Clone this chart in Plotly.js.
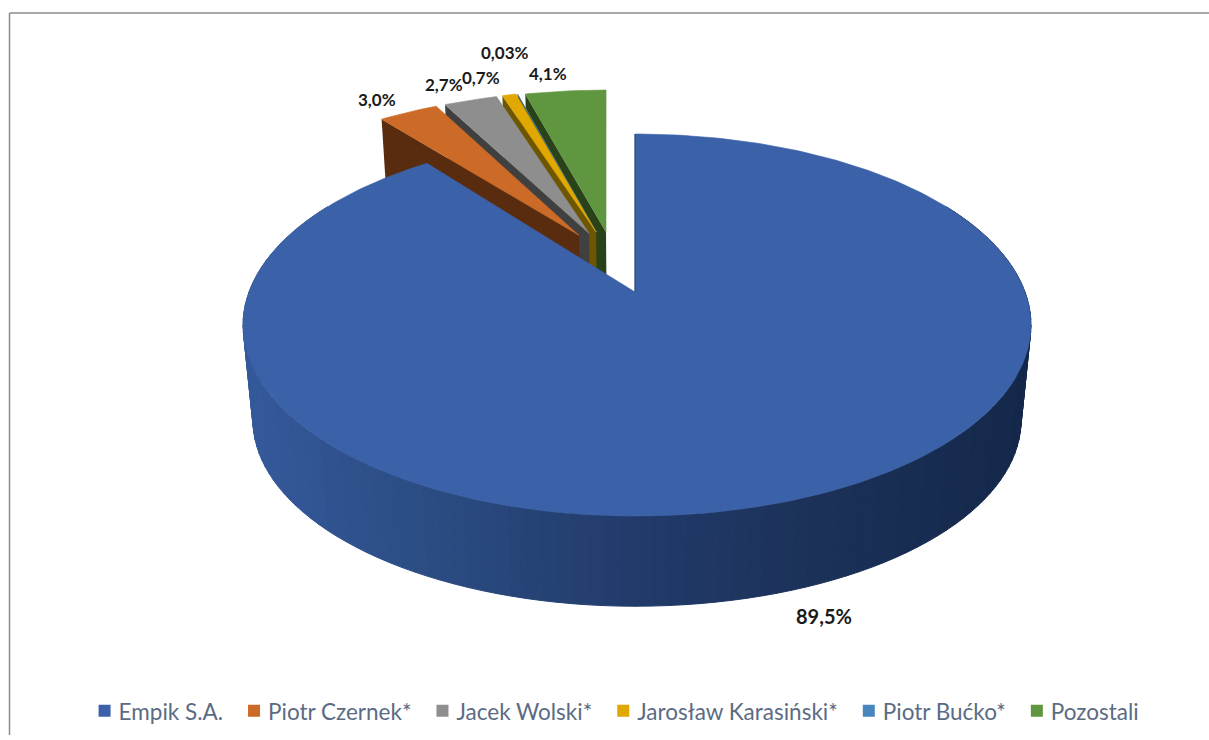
<!DOCTYPE html>
<html><head><meta charset="utf-8">
<script src="https://cdn.plot.ly/plotly-3.0.1.min.js"></script>
<style>html,body{margin:0;padding:0;background:#fff}#c{width:1209px;height:740px}</style>
</head><body><div id="c"></div>
<script>
// data
const categories = ["Empik S.A.","Piotr Czernek*","Jacek Wolski*","Jarosław Karasiński*","Piotr Bućko*","Pozostali"];
const values = [89.5,3.0,2.7,0.7,0.03,4.1];
const valueLabels = ["89,5%","3,0%","2,7%","0,7%","0,03%","4,1%"];
// styling
const topColors = ["#3B62A8","#CC6A27","#8E8E8E","#E0A800","#4A86BE","#5F963F"];
const wallColors = ["#1F3864","#592C0F","#404040","#6E5500","#2A4219","#2A4219"];
const explodeU = [0,-0.1705,-0.144,-0.126,-0.121,-0.0983];
const explodeTipU = [0,-0.158,-0.1307,-0.1116,-0.1116,-0.0846];
const explodeV = [0,0.323,0.335,0.343,0.343,0.343];
const labelX = [824,377,444,481,505,548];
const labelY = [616,99,84,77,52,73];
const labelSize = [20,17,17,17,17,17];
// projection of the pie disc
const CX=637, CY=325, K=388, A=191, B=33, C=0.1728, DEPTH=95, SHRINK=0.975;
function proj(u,v,low,main){
  const w=1+C*v; let x=K*u/w, y=(-A*v-B)/w;
  if(low){x*=SHRINK;y=y*SHRINK+DEPTH;}
  if(main){const m=1-Math.min(1,Math.abs(u));x-=2*m*m;}
  return [CX+x,CY+y];
}
function rim(deg,i,low){
  const t=deg*Math.PI/180;
  return proj(Math.sin(t)+explodeU[i],Math.cos(t)+explodeV[i],low,i===0);
}
function hex(c){return [1,3,5].map(k=>parseInt(c.substr(k,2),16));}
const wallStops=[[250,"#34599A"],[450,"#2A4A80"],[640,"#213A69"],[820,"#1B3158"],[1030,"#14284A"]];
function wallColor(x){
  for(let i=0;i<wallStops.length-1;i++){
    const a=wallStops[i],b=wallStops[i+1];
    if(x<=b[0]||i===wallStops.length-2){
      const f=Math.max(0,Math.min(1,(x-a[0])/(b[0]-a[0])));
      const p=hex(a[1]),q=hex(b[1]);
      return "rgb("+p.map((v,k)=>Math.round(v+(q[k]-v)*f)).join(",")+")";
    }
  }
}
const total=values.reduce((a,b)=>a+b,0);
const starts=[];let acc=0;
values.forEach(v=>{starts.push(acc/total*360);acc+=v;});
const ends=values.map((v,i)=>starts[i]+v/total*360);

function poly(pts,fill,line){
  return {type:"scatter",mode:"lines",x:pts.map(p=>p[0]),y:pts.map(p=>p[1]),fill:"toself",fillcolor:fill,
    line:{color:line||fill,width:line?0.6:0},hoverinfo:"skip",showlegend:false};
}
const traces=[];
// exploded slices, painted from back right to front left
for(let i=values.length-1;i>=1;i--){
  const a=starts[i],b=ends[i];
  const tipTop=proj(explodeTipU[i],explodeV[i],false), tipLow=proj(explodeTipU[i],explodeV[i],true);
  traces.push(poly([tipTop,rim(a,i,false),rim(a,i,true),tipLow,tipTop],wallColors[i]));
  const pts=[tipTop];
  const n=Math.max(2,Math.ceil(b-a));
  for(let k=0;k<=n;k++)pts.push(rim(a+(b-a)*k/n,i,false));
  pts.push(tipTop);
  traces.push(poly(pts,topColors[i],topColors[i]));
}
// main slice wall
for(let d=60;d<300;d+=2){
  const p1=rim(d,0,false),p2=rim(d+2,0,false),p3=rim(d+2,0,true),p4=rim(d,0,true);
  const col=wallColor((p1[0]+p2[0])/2);
  const tr=poly([p1,p2,p3,p4,p1],col);
  tr.line={color:col,width:1};
  traces.push(tr);
}
// main slice top
{
  const a=starts[0],b=ends[0],apex=proj(0,0,false,true),pts=[apex];
  const n=Math.ceil(b-a);
  for(let k=0;k<=n;k++)pts.push(rim(a+(b-a)*k/n,0,false));
  pts.push(apex);
  traces.push(poly(pts,topColors[0],topColors[0]));
  const edge=[apex,rim(0,0,false)];
  traces.push({type:"scatter",mode:"lines",x:edge.map(p=>p[0]),y:edge.map(p=>p[1]),
    line:{color:"#2A4370",width:1},hoverinfo:"skip",showlegend:false});
}
// legend entries
categories.forEach((c,i)=>traces.push({type:"scatter",mode:"markers",x:[null],y:[null],name:c,legendgroup:c,
  marker:{symbol:"square",size:12,color:topColors[i]},hoverinfo:"skip",showlegend:true}));

const layout={
  width:1209,height:740,margin:{l:0,r:0,t:0,b:0},paper_bgcolor:"#fff",plot_bgcolor:"#fff",
  xaxis:{range:[0,1209],visible:false,fixedrange:true},
  yaxis:{range:[740,0],visible:false,fixedrange:true},
  showlegend:true,
  legend:{orientation:"h",x:0.065,y:0.039,xanchor:"left",yanchor:"middle",traceorder:"grouped",tracegroupgap:15,
    font:{family:"Lato, Carlito, sans-serif",size:22.5,color:"#5B6B84"},bgcolor:"rgba(0,0,0,0)"},
  annotations:valueLabels.map((t,i)=>({x:labelX[i],y:labelY[i],xref:"x",yref:"y",text:"<b>"+t+"</b>",showarrow:false,
    xanchor:"center",yanchor:"middle",font:{family:"Lato, Carlito, sans-serif",size:labelSize[i],color:"#1A1A1A"}})),
  shapes:[
    {type:"line",xref:"x",yref:"y",x0:9.5,x1:9.5,y0:13,y1:735,line:{color:"#8C8C8C",width:1.5}},
    {type:"line",xref:"x",yref:"y",x0:9.5,x1:1209,y0:13,y1:13,line:{color:"#8C8C8C",width:1.5}}
  ]
};
Plotly.newPlot("c",traces,layout,{displayModeBar:false,responsive:false}).then(()=>{
  document.querySelectorAll(".legend .legendpoints").forEach(el=>el.setAttribute("transform","translate(6,0)"));
});
</script></body></html>
